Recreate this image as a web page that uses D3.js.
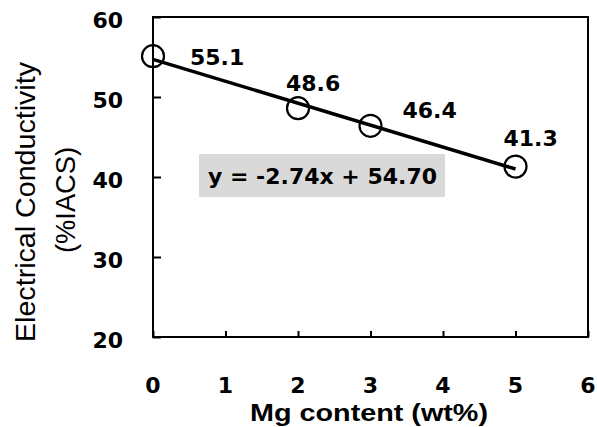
<!DOCTYPE html>
<html>
<head>
<meta charset="utf-8">
<script src="https://cdn.jsdelivr.net/npm/d3@7"></script>
<style>
  body { margin: 0; background: #fff; }
  svg { display: block; }
</style>
</head>
<body>
<svg id="mainsvg" width="597" height="427"></svg>
<script>
// data
const mgContent = [0, 2, 3, 5]
const conductivity = [55.1, 48.6, 46.4, 41.3]
const pointLabels = ["55.1", "48.6", "46.4", "41.3"]
const fitSlope = -2.74
const fitIntercept = 54.70
const fitText = "y = -2.74x + 54.70"
const xTicks = [0, 1, 2, 3, 4, 5, 6]
const yTicks = [20, 30, 40, 50, 60]

// layout
const WIDTH = 597, HEIGHT = 427
const MARGIN = {left: 153, right: 9, top: 17, bottom: 90}
// label offsets from each point (dx of left edge, dy of centre)
const LABEL_OFF = [[37, 1], [-12, -25], [32, -16], [-12, -29]]

let svg = d3.select("#mainsvg")

let x = d3.scaleLinear().domain([0, 6]).range([MARGIN.left, WIDTH - MARGIN.right])
let y = d3.scaleLinear().domain([20, 60]).range([HEIGHT - MARGIN.bottom, MARGIN.top])

const boldFont = "'DejaVu Sans', Verdana, sans-serif"
const arialFont = "'Liberation Sans', Arial, sans-serif"

// frame
svg.append("rect")
  .attr("x", x(0)).attr("y", y(60))
  .attr("width", x(6) - x(0)).attr("height", y(20) - y(60))
  .attr("fill", "none").attr("stroke", "#000").attr("stroke-width", 2)

// y axis (ticks inside)
let yAxis = d3.axisRight(y).tickValues(yTicks).tickSize(8).tickFormat("")
let yg = svg.append("g").attr("transform", `translate(${x(0)},0)`).call(yAxis)
yg.select(".domain").remove()
yg.selectAll("line").attr("stroke-width", 2)

svg.selectAll(".ylab")
  .data(yTicks)
  .enter()
  .append("text")
  .attr("class", "ylab")
  .attr("x", 123)
  .attr("y", d => y(d) + 3)
  .attr("dy", "0.36em")
  .attr("text-anchor", "end")
  .attr("font-family", boldFont)
  .attr("font-weight", "bold")
  .attr("font-size", 22)
  .text(d => d)

// x axis (ticks inside)
let xAxis = d3.axisTop(x).tickValues(xTicks).tickSize(6).tickFormat("")
let xg = svg.append("g").attr("transform", `translate(0,${y(20)})`).call(xAxis)
xg.select(".domain").remove()
xg.selectAll("line").attr("stroke-width", 2)

svg.selectAll(".xlab")
  .data(xTicks)
  .enter()
  .append("text")
  .attr("class", "xlab")
  .attr("x", d => x(d))
  .attr("y", 385)
  .attr("dy", "0.36em")
  .attr("text-anchor", "middle")
  .attr("font-family", boldFont)
  .attr("font-weight", "bold")
  .attr("font-size", 22)
  .text(d => d)

// axis titles
svg.append("text")
  .attr("x", 250).attr("y", 421)
  .attr("textLength", 238).attr("lengthAdjust", "spacingAndGlyphs")
  .attr("font-family", arialFont)
  .attr("font-weight", "bold")
  .attr("font-size", 24)
  .text("Mg content (wt%)")

let yTitle = svg.append("g").attr("transform", "rotate(-90)")
yTitle.append("text")
  .attr("x", -342).attr("y", 35)
  .attr("textLength", 280).attr("lengthAdjust", "spacingAndGlyphs")
  .attr("font-family", arialFont)
  .attr("font-size", 28)
  .text("Electrical Conductivity")
yTitle.append("text")
  .attr("x", -253).attr("y", 75)
  .attr("textLength", 106).attr("lengthAdjust", "spacingAndGlyphs")
  .attr("font-family", arialFont)
  .attr("font-size", 28)
  .text("(%IACS)")

// equation box
let eq = svg.append("g")
eq.append("rect")
  .attr("x", 199).attr("y", 154).attr("width", 246).attr("height", 43)
  .attr("fill", "#d9d9d9")
eq.append("text")
  .attr("x", 208).attr("y", 176).attr("dy", "0.36em")
  .attr("font-family", boldFont)
  .attr("font-weight", "bold")
  .attr("font-size", 22)
  .text(fitText)

// fit line
svg.append("line")
  .attr("x1", x(0)).attr("y1", y(fitIntercept))
  .attr("x2", x(5)).attr("y2", y(fitIntercept + fitSlope * 5))
  .attr("stroke", "#000").attr("stroke-width", 3.5)

// points
svg.selectAll(".pt")
  .data(mgContent)
  .enter()
  .append("circle")
  .attr("class", "pt")
  .attr("cx", d => x(d))
  .attr("cy", (d, i) => y(conductivity[i]))
  .attr("r", 11)
  .attr("fill", "none")
  .attr("stroke", "#000")
  .attr("stroke-width", 2.2)

// point labels
svg.selectAll(".plab")
  .data(mgContent)
  .enter()
  .append("text")
  .attr("class", "plab")
  .attr("x", (d, i) => x(d) + LABEL_OFF[i][0])
  .attr("y", (d, i) => y(conductivity[i]) + LABEL_OFF[i][1])
  .attr("dy", "0.36em")
  .attr("font-family", boldFont)
  .attr("font-weight", "bold")
  .attr("font-size", 22)
  .text((d, i) => pointLabels[i])
</script>
</body>
</html>
